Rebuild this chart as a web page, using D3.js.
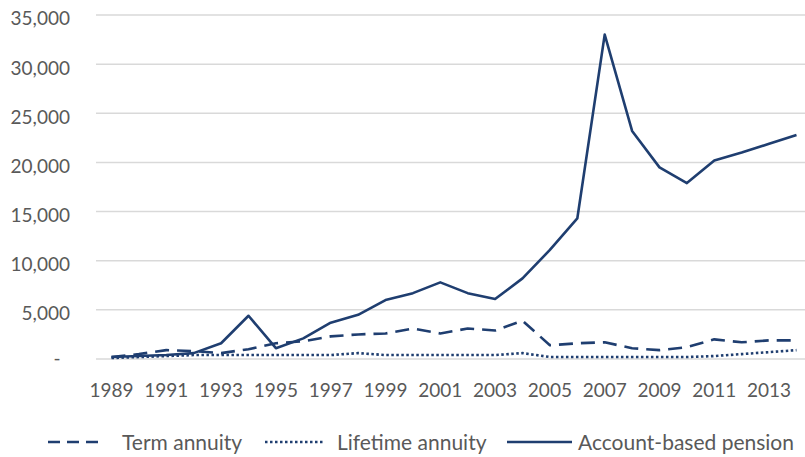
<meta charset="utf-8">
<head>
  <script src="https://d3js.org/d3.v7.min.js"></script>
  <style>
    body { margin: 0; background: #fff; }
    text { font-family: Lato, "Open Sans", sans-serif; fill: #595959; }
  </style>
</head>
<body>
  <svg id="svg" width="805" height="457"></svg>
  <script>
    // years and series values
    let years = d3.range(1989, 2015);
    let termAnnuity = [200, 500, 900, 800, 600, 1000, 1600, 1800, 2300, 2500, 2600, 3100, 2600, 3100, 2900, 3900,
      1400, 1600, 1700, 1100, 900, 1200, 2000, 1700, 1900, 1900];
    let lifetimeAnnuity = [100, 200, 300, 400, 400, 400, 400, 400, 400, 600, 400, 400, 400, 400, 400, 600,
      200, 200, 200, 200, 200, 200, 300, 500, 700, 900];
    let accountPension = [200, 300, 400, 600, 1600, 4400, 1100, 2100, 3700, 4500, 6000, 6700, 7800, 6700, 6100, 8200,
      11100, 14300, 33000, 23200, 19500, 17900, 20200, 21000, 21900, 22800];
    let yTicks = [0, 5000, 10000, 15000, 20000, 25000, 30000, 35000];
    let xLabelYears = d3.range(1989, 2014, 2);

    let series = [
      {name: "Term annuity", values: termAnnuity, dash: "14,8", legendDash: "12,7"},
      {name: "Lifetime annuity", values: lifetimeAnnuity, dash: "2.5,2.5", legendDash: "2.5,2.5"},
      {name: "Account-based pension", values: accountPension, dash: null, legendDash: null}
    ];

    let color = "#1f3e70";
    let svg = d3.select("#svg");

    let x = d3.scaleBand()
      .domain(years)
      .range([97.8, 810.2]);

    let y = d3.scaleLinear()
      .domain([0, 35000])
      .range([359, 15]);

    // gridlines
    svg.append("g")
      .selectAll("line")
      .data(yTicks)
      .enter().append("line")
      .attr("x1", 96)
      .attr("x2", 805)
      .attr("y1", d => y(d))
      .attr("y2", d => y(d))
      .attr("stroke", "#d9d9d9")
      .attr("stroke-width", 1.5);

    // y axis labels
    let fmt = d3.format(",");
    let yAxis = svg.append("g")
      .attr("transform", "translate(70,0)")
      .call(d3.axisLeft(y).tickValues(yTicks).tickSize(0).tickPadding(0)
        .tickFormat(d => d === 0 ? "-" : fmt(d)));
    yAxis.select(".domain").remove();
    yAxis.selectAll("text")
      .attr("font-size", 19)
      .attr("font-family", null)
      .attr("dy", "0.52em");
    yAxis.selectAll("text").filter(d => d === 0)
      .attr("text-anchor", "middle")
      .attr("dx", -13)
      .attr("dy", "0.3em");

    // x axis labels
    let xAxis = svg.append("g")
      .attr("transform", "translate(0,383.5)")
      .call(d3.axisBottom(x).tickValues(xLabelYears).tickSize(0).tickPadding(0));
    xAxis.select(".domain").remove();
    xAxis.selectAll("text")
      .attr("font-size", 19)
      .attr("font-family", null);

    // lines
    let line = d3.line()
      .x((d, i) => x(years[i]) + x.bandwidth() / 2)
      .y(d => y(d));

    svg.append("g")
      .selectAll("path")
      .data(series)
      .enter().append("path")
      .attr("d", d => line(d.values))
      .attr("fill", "none")
      .attr("stroke", color)
      .attr("stroke-width", 2.6)
      .attr("stroke-linejoin", "round")
      .attr("stroke-dasharray", d => d.dash);

    // legend
    let legendPos = [
      {sx: 48, sw: 54, tx: 122},
      {sx: 265, sw: 58, tx: 337},
      {sx: 507, sw: 65, tx: 578}
    ];
    let legend = svg.append("g")
      .selectAll("g")
      .data(series)
      .enter().append("g");
    legend.append("line")
      .attr("x1", (d, i) => legendPos[i].sx)
      .attr("x2", (d, i) => legendPos[i].sx + legendPos[i].sw)
      .attr("y1", 442)
      .attr("y2", 442)
      .attr("stroke", color)
      .attr("stroke-width", 2.6)
      .attr("stroke-dasharray", d => d.legendDash);
    legend.append("text")
      .attr("x", (d, i) => legendPos[i].tx)
      .attr("y", 450)
      .attr("font-size", 21)
      .text(d => d.name);
  </script>
</body>
